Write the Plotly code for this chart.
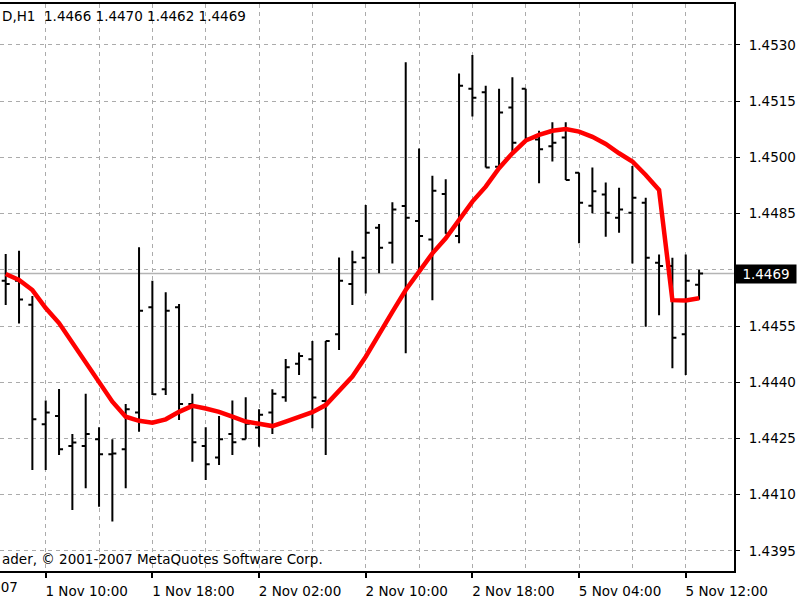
import plotly.graph_objects as go

# ---- data ----
sessions = [("1 Nov", list(range(7, 24))), ("2 Nov", list(range(0, 23))), ("5 Nov", list(range(1, 14)))]
times = [f"{d} {h:02d}:00" for d, hrs in sessions for h in hrs]

opens = [1.44671, 1.44671, 1.44607, 1.44288, 1.44310, 1.44230, 1.44230, 1.44248, 1.44208, 1.44221,
         1.44319, 1.44600, 1.44381, 1.44600, 1.44342, 1.44230, 1.44199, 1.44262, 1.44248, 1.44279,
         1.44319, 1.44360, 1.44449, 1.44461, 1.44350, 1.44528, 1.44662, 1.44732, 1.44812, 1.44772,
         1.44870, 1.44830, 1.44781, 1.44902, 1.44790, 1.45183, 1.45174, 1.44975, 1.45133, 1.45183,
         1.45048, 1.45030, 1.45053, 1.44959, 1.44871, 1.44901, 1.44839, 1.44852, 1.44879, 1.44719,
         1.44710, 1.44528, 1.44660]
highs = [1.44742, 1.44751, 1.44630, 1.44351, 1.44382, 1.44262, 1.44369, 1.44280, 1.44248, 1.44342,
         1.44760, 1.44671, 1.44640, 1.44609, 1.44369, 1.44280, 1.44310, 1.44351, 1.44360, 1.44328,
         1.44381, 1.44462, 1.44479, 1.44510, 1.44510, 1.44733, 1.44751, 1.44873, 1.44822, 1.44880,
         1.45254, 1.45024, 1.44951, 1.44942, 1.45224, 1.45273, 1.45191, 1.45183, 1.45214, 1.45183,
         1.45071, 1.45094, 1.45094, 1.44959, 1.44973, 1.44933, 1.44919, 1.44977, 1.44892, 1.44741,
         1.44732, 1.44741, 1.44700]
lows = [1.44606, 1.44557, 1.44166, 1.44166, 1.44206, 1.44059, 1.44117, 1.44068, 1.44028, 1.44117,
        1.44268, 1.44366, 1.44366, 1.44299, 1.44188, 1.44139, 1.44179, 1.44206, 1.44248, 1.44228,
        1.44262, 1.44348, 1.44419, 1.44277, 1.44206, 1.44486, 1.44606, 1.44637, 1.44691, 1.44717,
        1.44477, 1.44700, 1.44619, 1.44796, 1.44771, 1.45109, 1.44973, 1.44975, 1.45015, 1.45046,
        1.44931, 1.44989, 1.44940, 1.44771, 1.44851, 1.44788, 1.44799, 1.44717, 1.44548, 1.44579,
        1.44437, 1.44419, 1.44620]
closes = [1.44662, 1.44621, 1.44301, 1.44319, 1.44221, 1.44239, 1.44262, 1.44208, 1.44210, 1.44328,
          1.44591, 1.44368, 1.44591, 1.44342, 1.44240, 1.44181, 1.44248, 1.44240, 1.44289, 1.44313,
          1.44369, 1.44440, 1.44470, 1.44359, 1.44510, 1.44671, 1.44720, 1.44799, 1.44759, 1.44861,
          1.44839, 1.44790, 1.44911, 1.44796, 1.45191, 1.45159, 1.44973, 1.45120, 1.45039, 1.45050,
          1.45022, 1.45039, 1.44940, 1.44879, 1.44910, 1.44852, 1.44861, 1.44892, 1.44732, 1.44710,
          1.44519, 1.44671, 1.44690]
ma = [1.44689, 1.44673, 1.44646, 1.44598, 1.44558, 1.44505, 1.44451, 1.44398, 1.44348, 1.44308,
      1.44297, 1.44292, 1.44301, 1.44321, 1.44337, 1.44330, 1.44321, 1.44308, 1.44295, 1.44289,
      1.44283, 1.44295, 1.44306, 1.44320, 1.44339, 1.44375, 1.44415, 1.44468, 1.44531, 1.44588,
      1.44646, 1.44695, 1.44744, 1.44784, 1.44833, 1.44882, 1.44922, 1.44971, 1.45011, 1.45045,
      1.45060, 1.45071, 1.45076, 1.45069, 1.45055, 1.45036, 1.45011, 1.44989, 1.44953, 1.44913,
      1.44619, 1.44618, 1.44624]

price_ticks = [1.4395, 1.4410, 1.4425, 1.4440, 1.4455, 1.4470, 1.4485, 1.4500, 1.4515, 1.4530]
hidden_tick = 1.4470
symbol_text = "D,H1"
copyright_text = "ader, \u00a9 2001-2007 MetaQuotes Software Corp."
first_date_label = "1 Nov 2007"

# ---- figure ----
idx = list(range(len(times)))
label_idx = idx[3::8]
minor_idx = idx[7::8]
FONT = "DejaVu Sans"
FS = 13.5

fig = go.Figure()
fig.add_trace(go.Ohlc(
    x=idx, open=opens, high=highs, low=lows, close=closes,
    increasing=dict(line=dict(color="black", width=2)),
    decreasing=dict(line=dict(color="black", width=2)),
    tickwidth=0.3, showlegend=False, hoverinfo="skip",
))
fig.add_trace(go.Scatter(
    x=idx, y=ma, mode="lines", line=dict(color="#ff0000", width=4.5),
    showlegend=False, hoverinfo="skip",
))

last = closes[-1]
fig.add_shape(type="line", xref="paper", x0=0, x1=1, y0=last, y1=last,
              line=dict(color="#b4b4b4", width=1.5), layer="below")

fig.add_annotation(xref="paper", x=1, xanchor="left", xshift=1, y=last, yref="y",
                   text=f"{last:.4f}", showarrow=False, bgcolor="black",
                   font=dict(color="white", size=FS, family=FONT),
                   width=58, height=16, borderpad=1)
fig.add_annotation(xref="paper", yref="paper", x=0, y=0.979, xanchor="left", yanchor="middle",
                   text=f"{symbol_text}  {opens[-1]:.4f} {highs[-1]:.4f} {lows[-1]:.4f} {closes[-1]:.4f}",
                   showarrow=False, font=dict(color="black", size=FS, family=FONT))
fig.add_annotation(xref="paper", yref="paper", x=0, y=0.021, xanchor="left", yanchor="middle",
                   text=copyright_text, showarrow=False,
                   font=dict(color="black", size=FS, family=FONT))
fig.add_annotation(xref="paper", yref="paper", x=20 / 734, y=0, yshift=-16, xanchor="right",
                   yanchor="middle", text=first_date_label, showarrow=False,
                   font=dict(color="black", size=FS, family=FONT))

grid = dict(gridcolor="#ababab", griddash="4px,4px", gridwidth=1)
fig.update_layout(
    width=800, height=600,
    margin=dict(l=0, r=66, t=4, b=29),
    paper_bgcolor="white", plot_bgcolor="white",
    font=dict(family=FONT, size=FS, color="black"),
    xaxis=dict(
        range=[-0.4275, 54.62], rangeslider=dict(visible=False),
        tickmode="array", tickvals=label_idx, ticktext=[times[i] for i in label_idx],
        ticks="outside", ticklen=5, tickwidth=2, tickcolor="black",
        ticklabelshift=41, ticklabelstandoff=2,
        showline=True, linecolor="black", linewidth=2, mirror=True,
        showgrid=True, **grid,
        minor=dict(tickmode="array", tickvals=minor_idx, showgrid=True, ticks="", **grid),
        zeroline=False, fixedrange=True,
    ),
    yaxis=dict(
        side="right", range=[1.438962, 1.454094],
        tickmode="array", tickvals=price_ticks,
        ticktext=["" if abs(v - hidden_tick) < 1e-9 else f"{v:.4f}" for v in price_ticks],
        ticks="outside", ticklen=4, tickwidth=1, tickcolor="black",
        ticklabelstandoff=6,
        showline=True, linecolor="black", linewidth=2,
        showgrid=True, **grid, zeroline=False, fixedrange=True,
    ),
)

fig.write_html("out.html")
